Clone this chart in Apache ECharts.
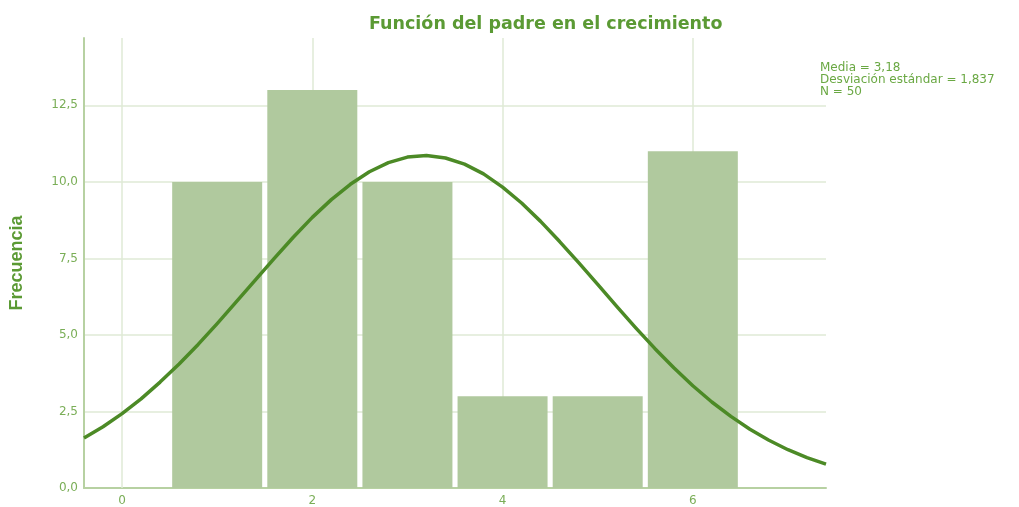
<!DOCTYPE html>
<html><head><meta charset="utf-8">
<script src="https://cdn.jsdelivr.net/npm/echarts@6/dist/echarts.min.js"></script>
<style>html,body{margin:0;padding:0;background:#fff}#c{width:1019px;height:507px}</style>
</head><body><div id="c"></div>
<script>
const title = 'Función del padre en el crecimiento';
const yName = 'Frecuencia';
const statsLines = ['Media = 3,18', 'Desviación estándar = 1,837', 'N = 50'];
const binCenters = [1, 2, 3, 4, 5, 6];
const frequencies = [10, 13, 10, 3, 3, 11];
const curveX = [-0.4,-0.2,0,0.2,0.4,0.6,0.8,1.0,1.2,1.4,1.6,1.8,2.0,2.2,2.4,2.6,2.8,3.0,3.2,3.4,3.6,3.8,4.0,4.2,4.4,4.6,4.8,5.0,5.2,5.4,5.6,5.8,6.0,6.2,6.4,6.6,6.8,7.0,7.2,7.4];
const curveY = [1.63,2.00,2.43,2.91,3.46,4.05,4.69,5.37,6.08,6.79,7.50,8.19,8.84,9.42,9.92,10.33,10.63,10.81,10.86,10.78,10.58,10.26,9.83,9.31,8.71,8.05,7.36,6.65,5.93,5.23,4.56,3.93,3.34,2.81,2.34,1.92,1.56,1.25,0.99,0.78];
const xTicks = [0, 2, 4, 6];

const green = '#4c8a26', labelGreen = '#7aae57', gridC = '#dfead6', axisC = '#b7d1a2';
const chart = echarts.init(document.getElementById('c'));
chart.setOption({
  animation: false,
  title: { text: title, left: 364, top: 10,
    textStyle: { fontFamily: 'DejaVu Sans', fontWeight: 'bold', fontSize: 17.5, color: '#5b9a34' } },
  graphic: [{ type: 'text', left: 820, top: 62,
    style: { text: statsLines.join('\n'), font: '12px "DejaVu Sans"', fill: '#6aa843', lineHeight: 12 } }],
  grid: { left: 84, right: 193, top: 38, bottom: 19 },
  xAxis: { type: 'value', min: -0.4, max: 7.4, splitNumber: 4,
    axisLine: { show: true, onZero: false, lineStyle: { color: axisC, width: 2 } },
    axisTick: { show: false },
    axisLabel: { color: labelGreen, fontFamily: 'DejaVu Sans', fontSize: 12, margin: 7,
      formatter: v => xTicks.indexOf(v) >= 0 ? String(v) : '' },
    splitLine: { show: false } },
  yAxis: { type: 'value', min: 0, max: 14.7, interval: 2.5,
    name: yName, nameLocation: 'middle', nameGap: 58,
    nameTextStyle: { fontFamily: 'Liberation Sans', fontWeight: 'bold', fontSize: 18, color: '#5b9a34' },
    axisLine: { show: true, onZero: false, lineStyle: { color: axisC, width: 2 } },
    axisTick: { show: false },
    axisLabel: { color: labelGreen, fontFamily: 'DejaVu Sans', fontSize: 12, margin: 6, showMaxLabel: false,
      formatter: v => (v % 2.5 === 0) ? v.toFixed(1).replace('.', ',') : '' },
    splitLine: { show: true, lineStyle: { color: [gridC, gridC, gridC, gridC, gridC, gridC, 'rgba(0,0,0,0)'], width: 1.5 } } },
  series: [
    { type: 'bar', data: binCenters.map((x, i) => [x, frequencies[i]]), barWidth: 90,
      itemStyle: { color: '#b0c99e' }, z: 2,
      markLine: { silent: true, symbol: 'none', label: { show: false },
        lineStyle: { color: gridC, width: 1.5, type: 'solid' },
        data: xTicks.map(v => ({ xAxis: v })), z: 1 } },
    { type: 'line', data: curveX.map((x, i) => [x, curveY[i]]), smooth: false, showSymbol: false,
      lineStyle: { color: green, width: 3.5, join: 'round' }, z: 3 }
  ]
});
</script></body></html>
